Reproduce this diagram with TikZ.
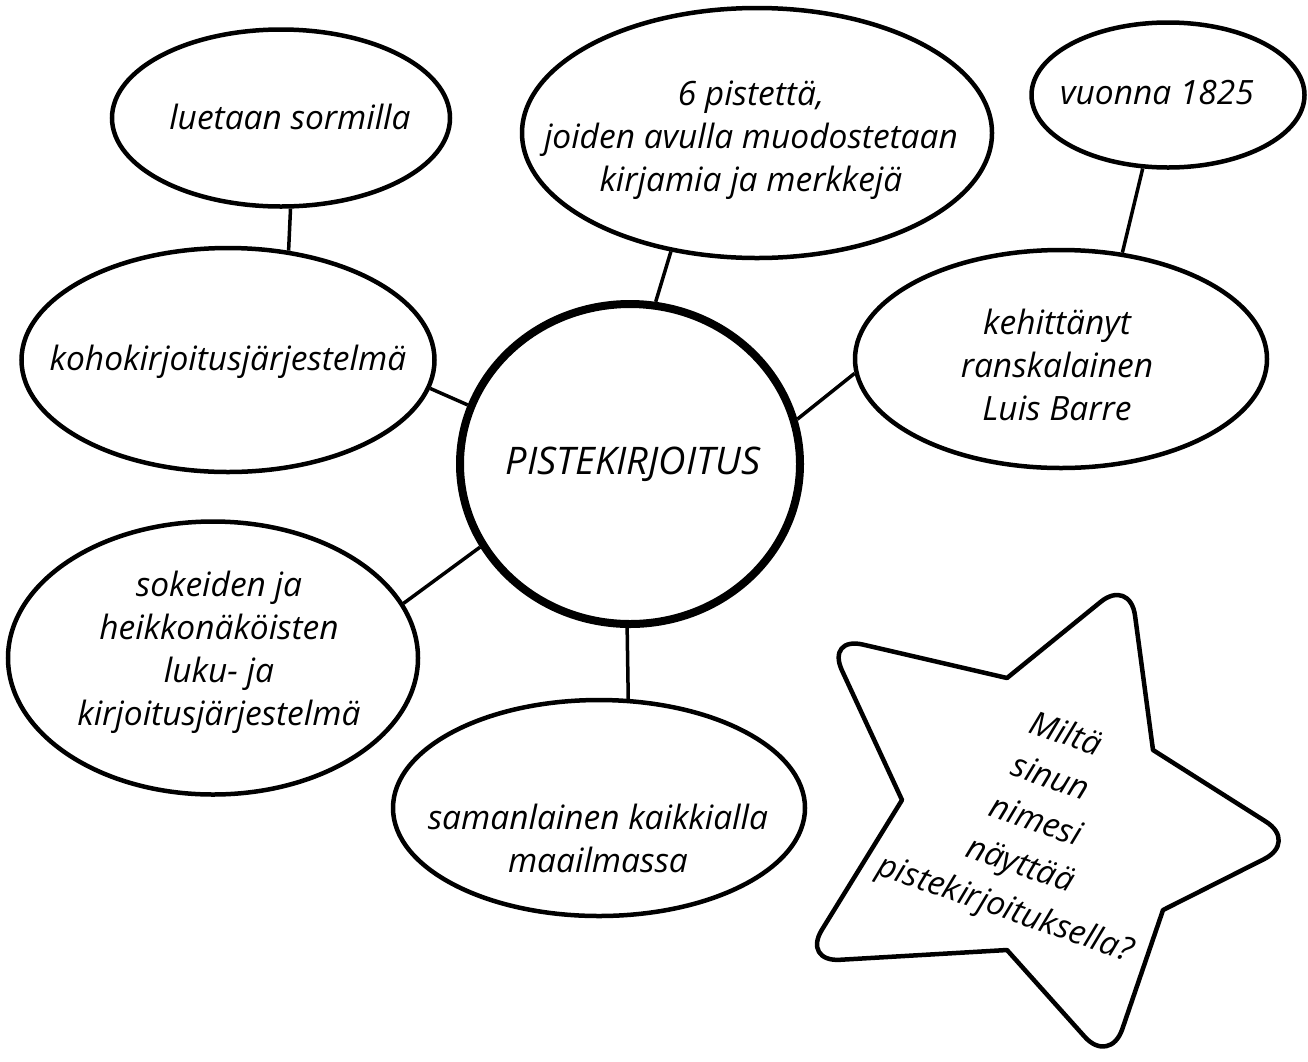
\documentclass[tikz,border=0pt]{standalone}
\usepackage{fontspec}
\setmainfont{Open Sans}
\usetikzlibrary{shapes.geometric,calc}
\begin{document}
\begin{tikzpicture}[x=1pt,y=-1pt,
  bubble/.style={ellipse,draw,line width=4.5pt,inner sep=0pt},
  txt/.style={align=center,font=\itshape\fontsize{33.5}{43}\selectfont,inner sep=0pt},
  link/.style={line width=3.5pt},
  starline/.style={line width=4.5pt,line join=round}]
\useasboundingbox (0,0) rectangle (1308,1061);
% bubbles
\node[bubble,minimum width=338pt,minimum height=177pt] (luet) at (281,118) {};
\node[bubble,minimum width=413pt,minimum height=224pt] (koho) at (228,360) {};
\node[bubble,minimum width=470pt,minimum height=250pt] (pist) at (757,133) {};
\node[bubble,minimum width=273pt,minimum height=145pt] (vuon) at (1168,95) {};
\node[bubble,minimum width=412pt,minimum height=218pt] (keh) at (1061,359) {};
\node[bubble,minimum width=410pt,minimum height=273pt] (sok) at (213,658) {};
\node[bubble,minimum width=412pt,minimum height=216pt] (sam) at (599,808) {};
\node[ellipse,draw,line width=8pt,minimum width=340pt,minimum height=320pt] (pk) at (630,464) {};
% texts
\node[txt] (luetT) at (290,117) {luetaan sormilla};
\node[txt] (kohoT) at (228,362) {kohokirjoitusjärjestelmä};
\node[txt] (pistT) at (751,140) {6 pistettä,\\joiden avulla muodostetaan\\kirjamia ja merkkejä};
\node[txt] (vuonT) at (1157,93) {vuonna 1825};
\node[txt] (kehT) at (1057,365) {kehittänyt\\ranskalainen\\Luis Barre};
\node[txt] (sokT) at (219,652) {sokeiden ja\\heikkonäköisten\\luku- ja\\kirjoitusjärjestelmä};
\node[txt] (samT) at (598,838) {samanlainen kaikkialla\\maailmassa};
\node[txt,font=\itshape\fontsize{38}{44}\selectfont] (pkT) at (633,464) {PISTEKIRJOITUS};
% connectors
\draw[link] (luet.-84) -- (koho.61);
\draw[link] (pist.234) -- (pk.81);
\draw[link] (vuon.251) -- (keh.60);
\draw[link] (koho.-8) -- (pk.160);
\draw[link] (keh.184) -- (pk.15);
\draw[link] (sok.16) -- (pk.209);
\draw[link] (sam.75) -- (pk.269);
% star
\coordinate (T1) at (1130,578);
\coordinate (I1) at (1007,678);
\coordinate (T2) at (826,636);
\coordinate (I2) at (902,800);
\coordinate (T3) at (802,962);
\coordinate (I3) at (1007,950);
\coordinate (T4) at (1110,1065);
\coordinate (I4) at (1163,910);
\coordinate (T5) at (1298,842);
\coordinate (I5) at (1153,750);
\draw[starline] (I1)
  -- ($(T2)!38pt!(I1)$) .. controls ($(T2)!17pt!(I1)$) and ($(T2)!17pt!(I2)$) .. ($(T2)!38pt!(I2)$)
  -- (I2)
  -- ($(T3)!38pt!(I2)$) .. controls ($(T3)!17pt!(I2)$) and ($(T3)!17pt!(I3)$) .. ($(T3)!38pt!(I3)$)
  -- (I3)
  -- ($(T4)!38pt!(I3)$) .. controls ($(T4)!17pt!(I3)$) and ($(T4)!17pt!(I4)$) .. ($(T4)!38pt!(I4)$)
  -- (I4)
  -- ($(T5)!38pt!(I4)$) .. controls ($(T5)!17pt!(I4)$) and ($(T5)!17pt!(I5)$) .. ($(T5)!38pt!(I5)$)
  -- (I5)
  -- ($(T1)!38pt!(I5)$) .. controls ($(T1)!17pt!(I5)$) and ($(T1)!17pt!(I1)$) .. ($(T1)!38pt!(I1)$)
  -- cycle;
\node[txt,font=\itshape\fontsize{33}{46}\selectfont,rotate=-19] (q) at (1035,823) {Miltä\\sinun\\nimesi\\näyttää\\pistekirjoituksella?};
\end{tikzpicture}
\end{document}
